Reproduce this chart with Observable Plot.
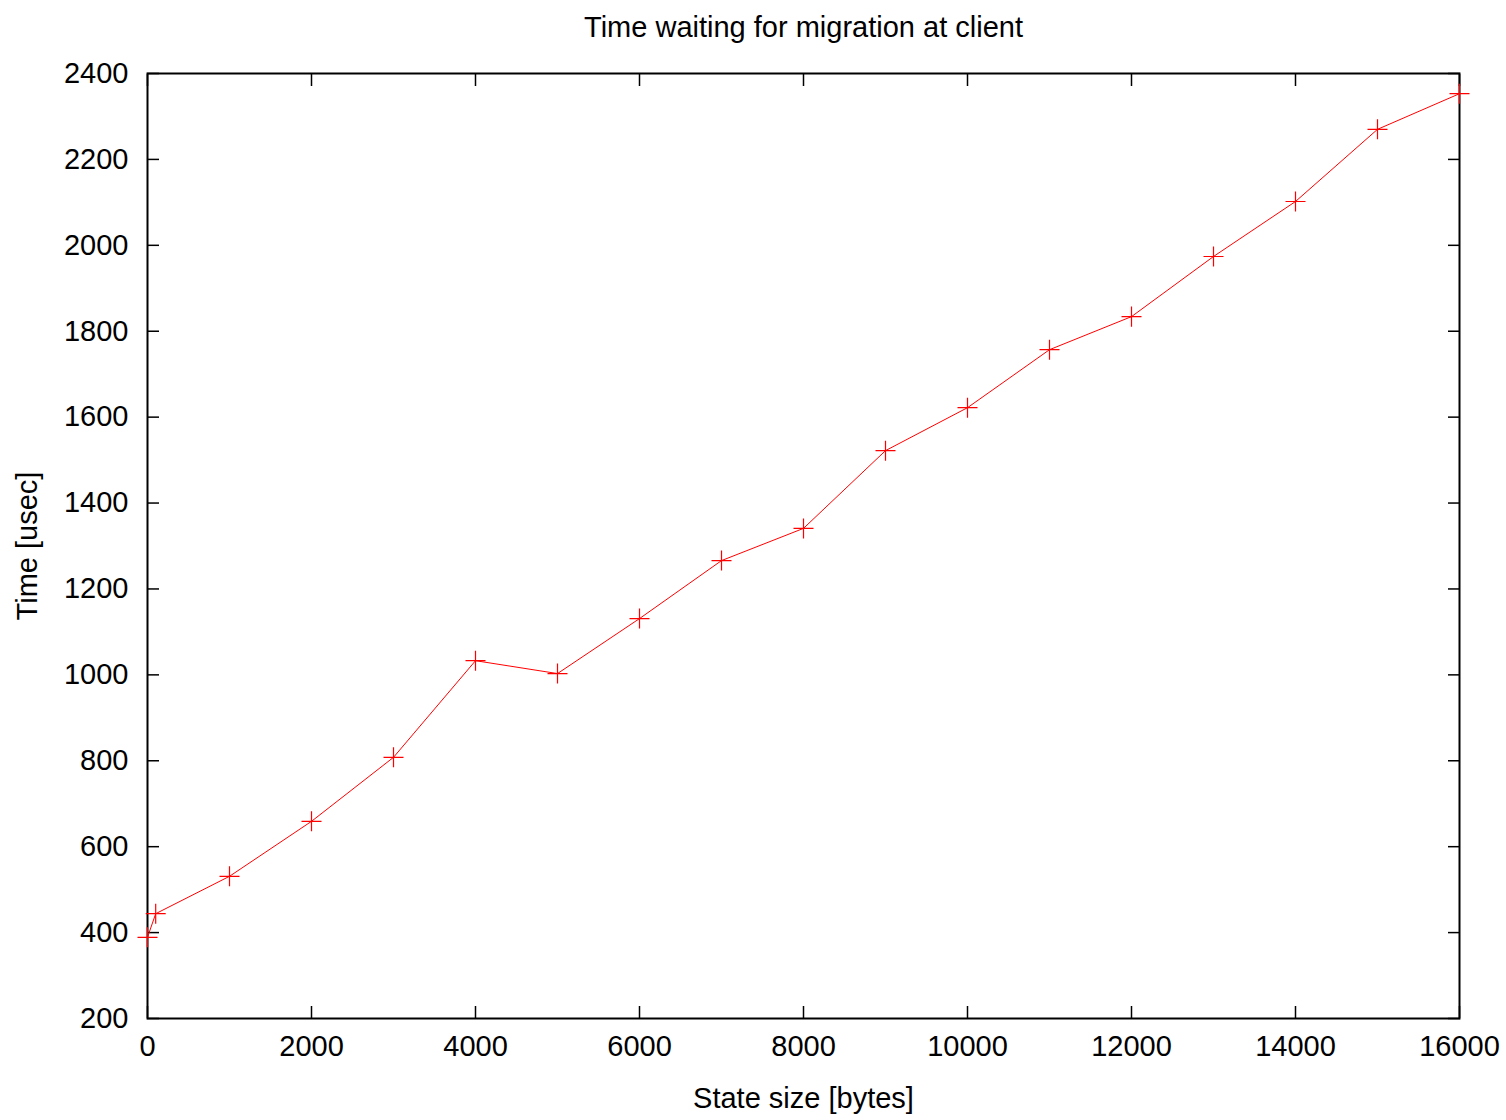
<!DOCTYPE html>
<html>
<head>
<meta charset="utf-8">
<script src="https://cdn.jsdelivr.net/npm/d3@7"></script>
<script src="https://cdn.jsdelivr.net/npm/@observablehq/plot@0.6"></script>
<style>
  html, body { margin: 0; padding: 0; background: #fff; }
  #chart svg { display: block; }
</style>
</head>
<body>
<div id="chart"></div>
<script>
const stateSize = [0, 100, 1000, 2000, 3000, 4000, 5000, 6000, 7000, 8000, 9000, 10000, 11000, 12000, 13000, 14000, 15000, 16000];
const timeUsec = [389, 444, 531, 659, 808, 1033, 1003, 1131, 1266, 1341, 1522, 1622, 1757, 1834, 1974, 2102, 2270, 2353];
const xTicks = [0, 2000, 4000, 6000, 8000, 10000, 12000, 14000, 16000];
const yTicks = [200, 400, 600, 800, 1000, 1200, 1400, 1600, 1800, 2000, 2200, 2400];
const titleText = "Time waiting for migration at client";
const xLabel = "State size [bytes]";
const yLabel = "Time [usec]";

const data = stateSize.map((x, i) => ({x, y: timeUsec[i]}));
const font = "Liberation Sans, Arial, sans-serif";
const fs = 29;
const fmt = d3.format("d");

const chart = Plot.plot({
  width: 1506,
  height: 1120,
  marginLeft: 147,
  marginRight: 47,
  marginTop: 73,
  marginBottom: 102,
  style: {fontFamily: font, fontSize: fs + "px", color: "#000", background: "#fff"},
  x: {domain: [0, 16000]},
  y: {domain: [200, 2400]},
  marks: [
    Plot.frame({stroke: "#000", strokeWidth: 2}),
    Plot.axisX(xTicks, {anchor: "bottom", tickSize: -12, tickPadding: 29, tickFormat: fmt, label: null, fontSize: fs, strokeWidth: 1.5}),
    Plot.axisX(xTicks, {anchor: "top", tickSize: -12, tickFormat: () => "", label: null, strokeWidth: 1.5}),
    Plot.axisY(yTicks, {anchor: "left", tickSize: -12, tickPadding: 31, tickFormat: fmt, label: null, fontSize: fs, strokeWidth: 1.5}),
    Plot.axisY(yTicks, {anchor: "right", tickSize: -12, tickFormat: () => "", label: null, strokeWidth: 1.5}),
    Plot.line(data, {x: "x", y: "y", stroke: "#ff0000", strokeWidth: 1}),
    Plot.dot(data, {x: "x", y: "y", symbol: "plus", r: 6.5, stroke: "#ff0000", strokeWidth: 1.2}),
    Plot.text([titleText], {frameAnchor: "top", dy: -57, fontSize: fs, fill: "#000"}),
    Plot.text([xLabel], {frameAnchor: "bottom", dy: 89, fontSize: fs, fill: "#000"}),
    Plot.text([yLabel], {frameAnchor: "left", dx: -120, rotate: -90, textAnchor: "middle", fontSize: fs, fill: "#000"})
  ]
});
document.getElementById("chart").appendChild(chart);
</script>
</body>
</html>
